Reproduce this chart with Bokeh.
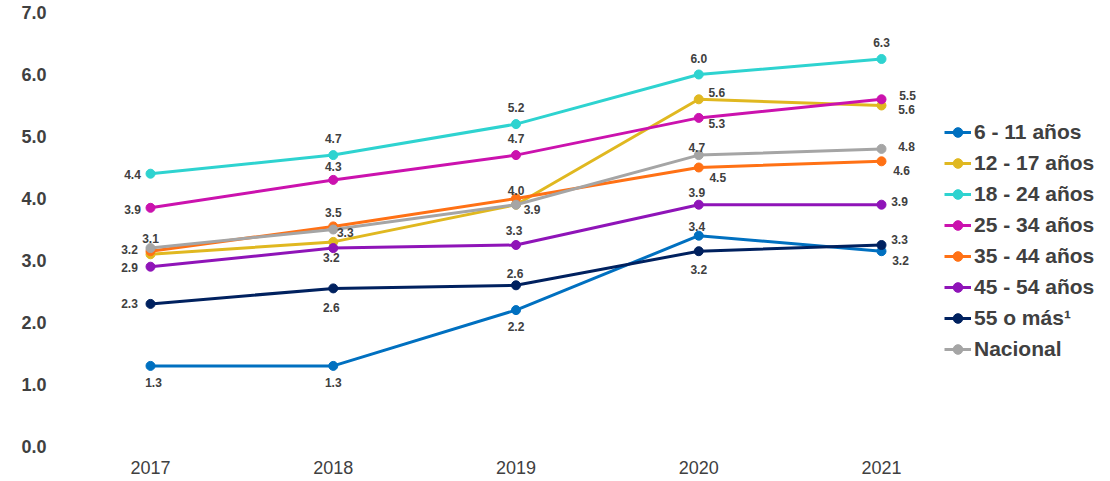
from bokeh.plotting import figure
from bokeh.models import (ColumnDataSource, Range1d, FixedTicker, NumeralTickFormatter,
                          Legend, LegendItem)
from bokeh.core.properties import value
from bokeh.embed import file_html
from bokeh.resources import INLINE

# ---------------- data ----------------
years = [2017, 2018, 2019, 2020, 2021]
year_labels = ["2017", "2018", "2019", "2020", "2021"]
y_ticks = [0, 1, 2, 3, 4, 5, 6, 7]

series_names = ["6 - 11 años", "12 - 17 años", "18 - 24 años", "25 - 34 años",
                "35 - 44 años", "45 - 54 años", "55 o más¹", "Nacional"]

v_6_11 = [1.3, 1.3, 2.2, 3.4, 3.15]
v_12_17 = [3.1, 3.3, 3.9, 5.6, 5.5]
v_18_24 = [4.4, 4.7, 5.2, 6.0, 6.25]
v_25_34 = [3.85, 4.3, 4.7, 5.3, 5.6]
v_35_44 = [3.15, 3.55, 4.0, 4.5, 4.6]
v_45_54 = [2.9, 3.2, 3.25, 3.9, 3.9]
v_55_mas = [2.3, 2.55, 2.6, 3.15, 3.25]
v_nacional = [3.2, 3.5, 3.9, 4.7, 4.8]

# data labels as printed on the chart
l_6_11 = ["1.3", "1.3", "2.2", "3.4", "3.2"]
l_12_17 = ["", "3.3", "", "5.6", "5.6"]
l_18_24 = ["4.4", "4.7", "5.2", "6.0", "6.3"]
l_25_34 = ["3.9", "4.3", "4.7", "5.3", "5.5"]
l_35_44 = ["3.2", "3.5", "4.0", "4.5", "4.6"]
l_45_54 = ["2.9", "3.2", "3.3", "3.9", "3.9"]
l_55_mas = ["2.3", "2.6", "2.6", "3.2", "3.3"]
l_nacional = ["3.1", "", "3.9", "4.7", "4.8"]

series_values = [v_6_11, v_12_17, v_18_24, v_25_34, v_35_44, v_45_54, v_55_mas, v_nacional]
series_labels = [l_6_11, l_12_17, l_18_24, l_25_34, l_35_44, l_45_54, l_55_mas, l_nacional]

# ---------------- styles ----------------
colors = ["#0070C0", "#E0B820", "#2ED3D0", "#CB12AE", "#FF7115", "#8F14B8", "#00215F", "#A5A5A5"]

# label offsets in screen pixels (dx, dy) per series / year
label_offsets = [
    [(3, 17), (0, 17), (0, 16), (-2, -9), (19, 9)],
    [(0, 0), (12, -9), (0, 0), (18, -7), (25, 4)],
    [(-18, 1), (0, -17), (0, -17), (0, -16), (0, -16)],
    [(-18, 2), (0, -13), (0, -17), (18, 6), (26, -4)],
    [(-21, -2), (0, -14), (0, -8), (19, 10), (20, 9)],
    [(-21, 1), (-2, 9), (-2, -14), (-2, -12), (18, -3)],
    [(-21, 0), (-2, 19), (-1, -12), (0, 18), (18, -5)],
    [(0, -10), (0, 0), (16, 5), (-2, -8), (25, -2)],
]

TXT = "#404040"
FONT = "Liberation Sans"

W, H = 1110, 481
p = figure(width=W, height=H, output_backend="svg", toolbar_location=None,
           x_range=Range1d(2016.5075, 2022.253),
           y_range=Range1d(-0.0645, 7.1935),
           min_border_left=60, min_border_right=0, min_border_top=0, min_border_bottom=31)
p.outline_line_color = None
p.background_fill_color = "white"
p.border_fill_color = "white"
p.xgrid.visible = False
p.ygrid.visible = False

# axes
p.yaxis.ticker = FixedTicker(ticks=y_ticks)
p.yaxis.formatter = NumeralTickFormatter(format="0.0")
p.yaxis.axis_line_color = None
p.yaxis.major_tick_line_color = None
p.yaxis.minor_tick_line_color = None
p.yaxis.major_tick_out = 0
p.yaxis.major_tick_in = 0
p.yaxis.major_label_standoff = 14
p.yaxis.major_label_text_font = FONT
p.yaxis.major_label_text_font_size = "18px"
p.yaxis.major_label_text_font_style = "bold"
p.yaxis.major_label_text_color = TXT

p.xaxis.ticker = FixedTicker(ticks=years)
p.xaxis.major_label_overrides = {y: l for y, l in zip(years, year_labels)}
p.xaxis.axis_line_color = None
p.xaxis.major_tick_line_color = None
p.xaxis.minor_tick_line_color = None
p.xaxis.major_tick_out = 0
p.xaxis.major_tick_in = 0
p.xaxis.major_label_standoff = 10
p.xaxis.major_label_text_font = FONT
p.xaxis.major_label_text_font_size = "18px"
p.xaxis.major_label_text_color = TXT

items = []
lx, ly, lt, ldx, ldy = [], [], [], [], []
for name, vals, labs, col, offs in zip(series_names, series_values, series_labels, colors, label_offsets):
    src = ColumnDataSource(dict(x=years, y=vals))
    r_line = p.line("x", "y", source=src, line_color=col, line_width=3)
    r_pt = p.scatter("x", "y", source=src, marker="circle", size=9,
                     fill_color=col, line_color=col)
    items.append(LegendItem(label=name, renderers=[r_line, r_pt]))
    for x, y, t, (dx, dy) in zip(years, vals, labs, offs):
        lx.append(x); ly.append(y); lt.append(t); ldx.append(dx); ldy.append(dy)

lab_src = ColumnDataSource(dict(x=lx, y=ly, text=lt, dx=ldx, dy=ldy))
p.text("x", "y", text="text", source=lab_src, x_offset="dx", y_offset="dy",
       text_align="center", text_baseline="middle",
       text_font=value(FONT), text_font_size="12px", text_font_style="bold",
       text_color=TXT)

legend = Legend(items=items, location=(884, 89), orientation="vertical",
                glyph_width=27, glyph_height=24, label_height=24, spacing=7,
                label_standoff=3, padding=0, margin=0,
                label_text_font=FONT, label_text_font_size="21px",
                label_text_font_style="bold", label_text_color=TXT,
                background_fill_alpha=0, border_line_alpha=0)
p.add_layout(legend)

open("out.html", "w").write(file_html(p, INLINE))
